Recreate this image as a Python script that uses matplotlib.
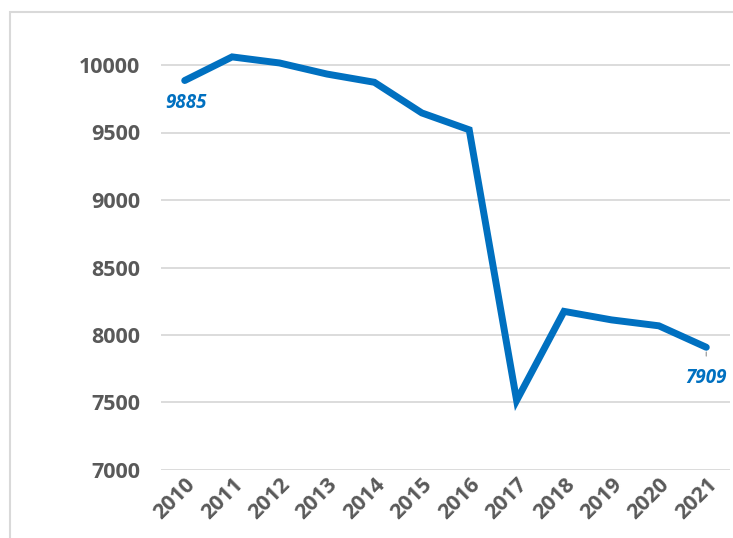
import matplotlib.pyplot as plt
from matplotlib.patches import Rectangle

years = ["2010", "2011", "2012", "2013", "2014", "2015", "2016",
         "2017", "2018", "2019", "2020", "2021"]
values = [9885, 10060, 10015, 9933, 9872, 9645, 9520,
          7515, 8175, 8112, 8068, 7909]
yticks = [7000, 7500, 8000, 8500, 9000, 9500, 10000]

blue = "#0070C0"
grey_txt = "#595959"
plt.rcParams['font.family'] = ['Open Sans', 'DejaVu Sans']

fig = plt.figure(figsize=(7.33, 5.38), dpi=100)
# chart area border (cut off at right / bottom like the source)
fig.patches.append(Rectangle((10 / 733, -0.1), 1.2, 1 - 12 / 538 + 0.1,
                             transform=fig.transFigure, fill=False,
                             edgecolor="#D9D9D9", linewidth=1.5))

ax = fig.add_axes([161 / 733, 1 - 470 / 538, 569 / 733, (470 - 24.5) / 538])
x = list(range(len(years)))
ax.plot(x, values, color=blue, linewidth=5, solid_capstyle="round",
        solid_joinstyle="miter", zorder=3)

ax.set_xlim(-0.5, len(years) - 0.5)
ax.set_ylim(7000, 10300)
ax.set_yticks(yticks)
ax.set_yticklabels([str(v) for v in yticks])
ax.set_xticks(x)
ax.set_xticklabels(years, rotation=45, ha="right", va="top",
                   rotation_mode="anchor")
ax.yaxis.grid(True, color="#D9D9D9", linewidth=1.3)
ax.set_axisbelow(True)
for s in ax.spines.values():
    s.set_visible(False)
ax.tick_params(axis="both", length=0, labelsize=15.5, labelcolor=grey_txt)
ax.tick_params(axis="y", pad=15)
ax.tick_params(axis="x", pad=3)
for lab in ax.get_xticklabels() + ax.get_yticklabels():
    lab.set_fontweight("bold")

# data labels
ax.annotate(str(values[0]), (x[0], values[0]), xytext=(1, -16),
            textcoords="offset points", ha="center", va="center",
            color=blue, fontsize=13.5, fontweight="bold", style="italic")
ax.annotate(str(values[-1]), (x[-1], values[-1]), xytext=(0, -22),
            textcoords="offset points", ha="center", va="center",
            color=blue, fontsize=13.5, fontweight="bold", style="italic")
ax.annotate("", (x[-1], values[-1] - 15), xytext=(x[-1], values[-1] - 85),
            arrowprops=dict(arrowstyle="-", color="#A6A6A6", lw=1))

fig.savefig("out.png", dpi=100)
